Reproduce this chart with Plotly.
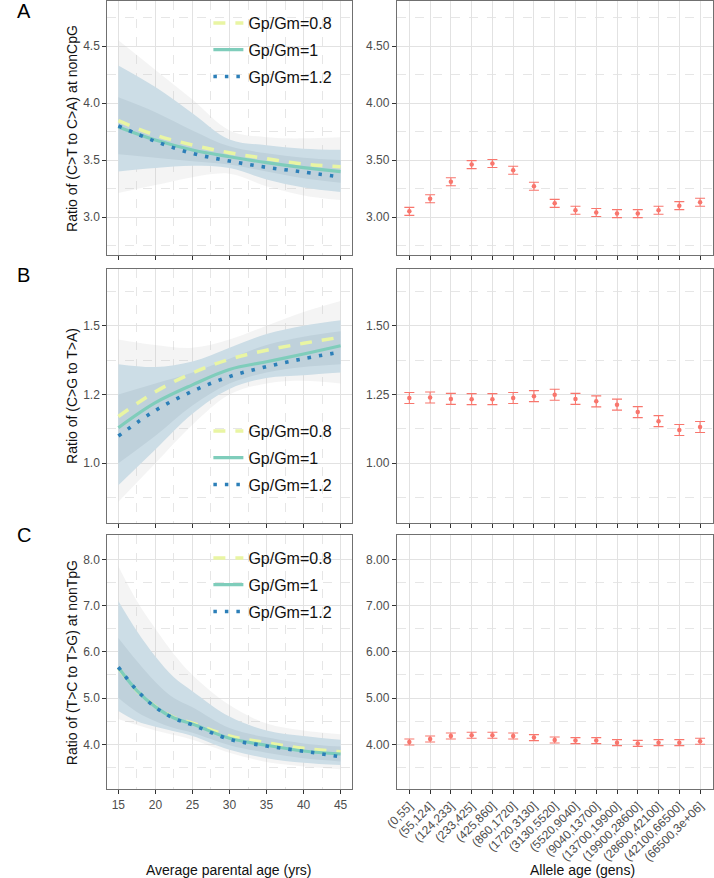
import plotly.graph_objects as go

# ---------------- data ----------------
ages = [15, 20, 25, 30, 35, 40, 45]
ages_c = [15, 17.5, 20, 22.5, 25, 30, 35, 40, 45]
ratio_names = ["Gp/Gm=0.8", "Gp/Gm=1", "Gp/Gm=1.2"]

# Panel A : C>T / C>A at nonCpG
a_r08 = [3.845, 3.719, 3.632, 3.564, 3.512, 3.465, 3.442]
a_r10 = [3.790, 3.675, 3.588, 3.529, 3.477, 3.433, 3.398]
a_r12 = [3.800, 3.664, 3.558, 3.491, 3.436, 3.395, 3.351]
a_gray_top = [4.55, 4.29, 4.03, 3.76, 3.70, 3.69, 3.70]
a_gray_bot = [3.21, 3.28, 3.35, 3.38, 3.27, 3.19, 3.15]
a_blue_top = [4.33, 4.14, 3.91, 3.68, 3.63, 3.60, 3.59]
a_blue_bot = [3.40, 3.43, 3.45, 3.43, 3.33, 3.26, 3.22]
a_core_top = [4.05, 3.92, 3.76, 3.62, 3.56, 3.52, 3.50]
a_core_bot = [3.55, 3.52, 3.49, 3.46, 3.40, 3.34, 3.30]

# Panel B : C>G / T>A
b_r08 = [1.170, 1.260, 1.328, 1.378, 1.411, 1.436, 1.458]
b_r10 = [1.129, 1.220, 1.285, 1.341, 1.369, 1.397, 1.427]
b_r12 = [1.099, 1.192, 1.262, 1.315, 1.351, 1.380, 1.404]
b_gray_top = [1.45, 1.43, 1.42, 1.45, 1.50, 1.55, 1.59]
b_gray_bot = [0.86, 1.00, 1.14, 1.25, 1.29, 1.30, 1.29]
b_blue_top = [1.36, 1.35, 1.37, 1.42, 1.47, 1.50, 1.52]
b_blue_bot = [0.92, 1.05, 1.18, 1.27, 1.31, 1.32, 1.33]
b_core_top = [1.25, 1.29, 1.33, 1.38, 1.43, 1.46, 1.48]
b_core_bot = [1.00, 1.10, 1.21, 1.29, 1.33, 1.35, 1.36]

# Panel C : T>C / T>G at nonTpG
c_r08 = [5.65, 5.16, 4.82, 4.58, 4.46, 4.18, 4.035, 3.913, 3.84]
c_r10 = [5.66, 5.16, 4.81, 4.57, 4.44, 4.13, 3.98, 3.855, 3.79]
c_r12 = [5.67, 5.17, 4.80, 4.56, 4.42, 4.11, 3.963, 3.85, 3.73]
c_gray_top = [7.85, 7.10, 6.50, 5.95, 5.50, 4.85, 4.45, 4.30, 4.22]
c_gray_bot = [4.55, 4.42, 4.30, 4.20, 4.10, 3.82, 3.62, 3.52, 3.46]
c_blue_top = [7.10, 6.45, 5.90, 5.45, 5.15, 4.60, 4.30, 4.18, 4.10]
c_blue_bot = [4.72, 4.50, 4.38, 4.28, 4.18, 3.88, 3.70, 3.60, 3.55]
c_core_top = [6.30, 5.80, 5.35, 5.00, 4.80, 4.35, 4.15, 4.02, 3.95]
c_core_bot = [5.00, 4.70, 4.50, 4.35, 4.25, 3.98, 3.82, 3.70, 3.63]

# Right panels: allele-age bins
allele_bins = ["(0,55]", "(55,124]", "(124,233]", "(233,425]", "(425,860]",
               "(860,1720]", "(1720,3130]", "(3130,5520]", "(5520,9040]",
               "(9040,13700]", "(13700,19900]", "(19900,28600]", "(28600,42100]",
               "(42100,66500]", "(66500,3e+06]"]
a_obs = [3.05, 3.16, 3.31, 3.46, 3.47, 3.41, 3.27, 3.12, 3.06, 3.04, 3.03, 3.03, 3.06, 3.10, 3.13]
a_err = [0.035] * 15
b_obs = [1.237, 1.239, 1.234, 1.233, 1.233, 1.237, 1.244, 1.249, 1.234, 1.225, 1.213, 1.186, 1.153, 1.121, 1.132]
b_err = [0.020] * 15
c_obs = [4.05, 4.116, 4.18, 4.196, 4.196, 4.18, 4.145, 4.094, 4.08, 4.08, 4.036, 4.02, 4.036, 4.036, 4.065]
c_err = [0.065] * 15

# ticks
age_ticks = [15, 20, 25, 30, 35, 40, 45]
age_minor = [17.5, 22.5, 27.5, 32.5, 37.5, 42.5]
a_ticks = [3.0, 3.5, 4.0, 4.5]
a_left_text = ["3.0", "3.5", "4.0", "4.5"]
a_right_text = ["3.00", "3.50", "4.00", "4.50"]
a_minor = [2.75, 3.25, 3.75, 4.25, 4.75]
b_ticks = [1.0, 1.25, 1.5]
b_left_text = ["1.0", "1.2", "1.5"]
b_right_text = ["1.00", "1.25", "1.50"]
b_minor = [0.875, 1.125, 1.375, 1.625]
c_ticks = [4, 5, 6, 7, 8]
c_left_text = ["4.0", "5.0", "6.0", "7.0", "8.0"]
c_right_text = ["4.00", "5.00", "6.00", "7.00", "8.00"]
c_minor = [3.5, 4.5, 5.5, 6.5, 7.5]

y_titles = ["Ratio of (C>T to C>A) at nonCpG", "Ratio of (C>G to T>A)", "Ratio of (T>C to T>G) at nonTpG"]
panel_letters = ["A", "B", "C"]

# ---------------- style ----------------
W, H = 714, 878
FONT = "Liberation Sans, Arial, Helvetica, sans-serif"
COL_08, COL_10, COL_12 = "#e9f5a3", "#7fcdbb", "#2c7fb8"
RED = "#F8766D"

def yd(top, bot):
    return [1 - bot / H, 1 - top / H]

left_dom = [96 / W, 345 / W]
right_dom = [391 / W, 712.5 / W]
row_doms = [yd(1, 255), yd(269, 522.7), yd(535.3, 789.3)]
y_ranges = [[2.667, 4.895], [0.784, 1.706], [3.027, 8.52]]

fig = go.Figure()

panels = [
    (ages, [a_r08, a_r10, a_r12], (a_gray_bot, a_gray_top), (a_blue_bot, a_blue_top), (a_core_bot, a_core_top),
     a_obs, a_err, a_ticks, a_left_text, a_right_text, a_minor),
    (ages, [b_r08, b_r10, b_r12], (b_gray_bot, b_gray_top), (b_blue_bot, b_blue_top), (b_core_bot, b_core_top),
     b_obs, b_err, b_ticks, b_left_text, b_right_text, b_minor),
    (ages_c, [c_r08, c_r10, c_r12], (c_gray_bot, c_gray_top), (c_blue_bot, c_blue_top), (c_core_bot, c_core_top),
     c_obs, c_err, c_ticks, c_left_text, c_right_text, c_minor),
]

legend_names = ["legend", "legend2", "legend3"]
line_styles = [
    dict(color=COL_08, width=3.5, dash="12px,10px"),
    dict(color=COL_10, width=3.2, dash="solid"),
    dict(color=COL_12, width=3.6, dash="3.5px,8px"),
]

axis_common = dict(showline=True, linecolor="#707070", linewidth=1, mirror=True,
                   ticks="outside", ticklen=4, tickcolor="#333333", tickwidth=1,
                   tickfont=dict(size=12, color="#4d4d4d", family=FONT),
                   showgrid=True, gridcolor="#e2e2e2", gridwidth=1, zeroline=False)

band_colors = ["rgba(200,200,200,0.2)", "#ccdde6", "#bfd1db"]

for i, (xs, curves, gband, bband, cband, obs, err, yt, ylt, yrt, ym) in enumerate(panels):
    lx = "x" if i == 0 else f"x{2*i+1}"
    ly = "y" if i == 0 else f"y{2*i+1}"
    rx = f"x{2*i+2}"
    ry = f"y{2*i+2}"
    # bands
    for (lo, hi), col in zip([gband, bband, cband], band_colors):
        fig.add_trace(go.Scatter(x=xs, y=lo, mode="lines", line=dict(width=0, shape="spline"),
                                 hoverinfo="skip", showlegend=False, xaxis=lx, yaxis=ly))
        fig.add_trace(go.Scatter(x=xs, y=hi, mode="lines", line=dict(width=0, shape="spline"),
                                 fill="tonexty", fillcolor=col, hoverinfo="skip",
                                 showlegend=False, xaxis=lx, yaxis=ly))
    # model curves
    for k, (vals, nm, ls) in enumerate(zip(curves, ratio_names, line_styles)):
        fig.add_trace(go.Scatter(x=xs, y=vals, mode="lines", name=nm,
                                 line=dict(shape="spline", **ls),
                                 legend=legend_names[i], legendgroup=f"{i}-{k}",
                                 xaxis=lx, yaxis=ly))
    # observed ratios
    fig.add_trace(go.Scatter(x=allele_bins, y=obs, mode="markers",
                             marker=dict(color=RED, size=4.5),
                             error_y=dict(type="data", array=err, color=RED, thickness=1.1, width=5),
                             showlegend=False, xaxis=rx, yaxis=ry))

    show_x_labels = (i == 2)
    lxa = "xaxis" if i == 0 else f"xaxis{2*i+1}"
    lya = "yaxis" if i == 0 else f"yaxis{2*i+1}"
    rxa = f"xaxis{2*i+2}"
    rya = f"yaxis{2*i+2}"
    fig.layout[lxa] = dict(axis_common, domain=left_dom, anchor=ly, range=[13.5, 46.5],
                           tickmode="array", tickvals=age_ticks, showticklabels=show_x_labels,
                           minor=dict(tickmode="array", tickvals=age_minor, showgrid=True,
                                      gridcolor="#e6e6e6", griddash="dash", ticks=""))
    fig.layout[lya] = dict(axis_common, domain=row_doms[i], anchor=lx, range=y_ranges[i],
                           tickmode="array", tickvals=yt, ticktext=ylt,
                           minor=dict(tickmode="array", tickvals=ym, showgrid=True,
                                      gridcolor="#e6e6e6", griddash="dash", ticks=""))
    fig.layout[rxa] = dict(axis_common, domain=right_dom, anchor=ry, type="category",
                           categoryorder="array", categoryarray=allele_bins,
                           range=[-0.6, 14.6], showticklabels=show_x_labels, tickangle=-45)
    fig.layout[rya] = dict(axis_common, domain=row_doms[i], anchor=rx, range=y_ranges[i],
                           tickmode="array", tickvals=yt, ticktext=yrt,
                           minor=dict(tickmode="array", tickvals=ym, showgrid=True,
                                      gridcolor="#e6e6e6", griddash="dash", ticks=""))

# legends
legend_tops = [6, 414, 541]
for i, name in enumerate(legend_names):
    fig.layout[name] = dict(x=199 / W, y=1 - legend_tops[i] / H, xanchor="left", yanchor="top",
                            bgcolor="rgba(0,0,0,0)", borderwidth=0, traceorder="grouped",
                            tracegroupgap=3, font=dict(size=16, color="#111111", family=FONT))

# annotations: y titles, letters, x titles
ann = []
row_centers = [128, 396, 662.3]
letter_y = [11, 275, 535]
for i in range(3):
    ann.append(dict(text=y_titles[i], x=60 / W, y=1 - row_centers[i] / H, xref="paper", yref="paper",
                    textangle=-90, showarrow=False, xanchor="center", yanchor="middle",
                    font=dict(size=14, color="#111111", family=FONT)))
    ann.append(dict(text=panel_letters[i], x=2 / W, y=1 - letter_y[i] / H, xref="paper", yref="paper",
                    showarrow=False, xanchor="left", yanchor="middle",
                    font=dict(size=20, color="#000000", family=FONT)))
ann.append(dict(text="Average parental age (yrs)", x=220.5 / W, y=1 - 870 / H, xref="paper", yref="paper",
                showarrow=False, xanchor="center", yanchor="middle",
                font=dict(size=14, color="#111111", family=FONT)))
ann.append(dict(text="Allele age (gens)", x=580 / W, y=1 - 870 / H, xref="paper", yref="paper",
                showarrow=False, xanchor="center", yanchor="middle",
                font=dict(size=14, color="#111111", family=FONT)))

fig.update_layout(width=W, height=H, margin=dict(l=0, r=0, t=0, b=0),
                  paper_bgcolor="white", plot_bgcolor="white",
                  font=dict(family=FONT), annotations=ann, showlegend=True)

fig.write_html("out.html", config={"displayModeBar": False},
               post_script="document.body.style.margin='0px';document.body.style.padding='0px';"
                           "document.body.style.overflow='hidden';")
